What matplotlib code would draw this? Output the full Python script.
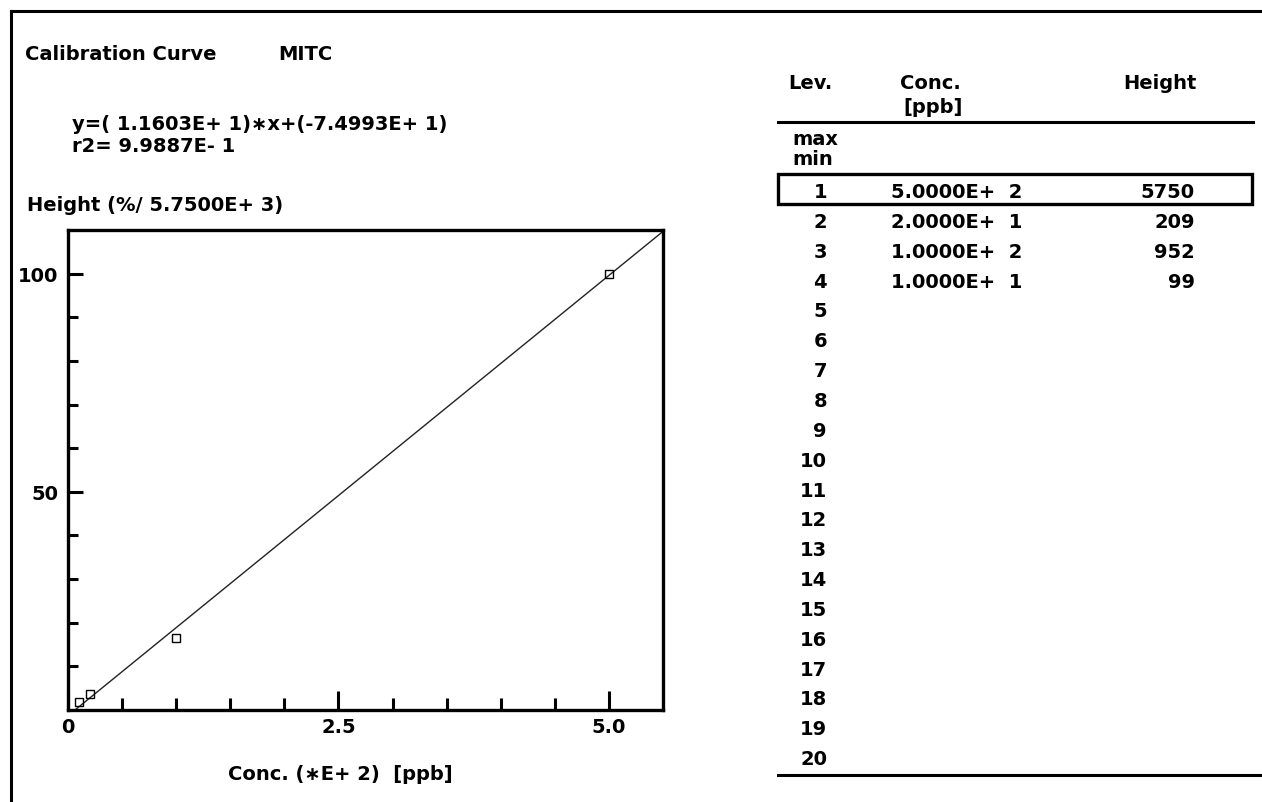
import numpy as np
from matplotlib import pyplot as plt
from matplotlib.patches import Rectangle

# calibration data (level table)
levels = list(range(1, 21))
conc_ppb = [5.0e2, 2.0e1, 1.0e2, 1.0e1]
heights = [5750, 209, 952, 99]
conc_text = ['5.0000E+  2', '2.0000E+  1', '1.0000E+  2', '1.0000E+  1']
slope = 11.603
intercept = -74.993
h_ref = 5750.0

W, H = 1262, 803
FS = 14
CAP = 0.729*FS*100/72.0
plt.rcParams['font.family'] = ['DejaVu Sans']
plt.rcParams['font.weight'] = 'bold'
fig = plt.figure(figsize=(W/100.0, H/100.0), dpi=100)

def px(x, y):
	return x/float(W), 1 - y/float(H)

# y is the middle of the capitals
def txt(x, y, s, ha='left'):
	fx, fy = px(x, y + CAP/2.0)
	fig.text(fx, fy, s, ha=ha, va='baseline', fontsize=FS, fontweight='bold')

def hline(x0, x1, y, lw=2.2):
	a, b = px(x0, y)
	c, d = px(x1, y)
	fig.add_artist(plt.Line2D([a, c], [b, d], color='black', lw=lw, transform=fig.transFigure))

# outer frame (only top and left visible)
a, b = px(11, 12)
fig.add_artist(plt.Line2D([a, 1.0], [b, b], color='black', lw=2.2, transform=fig.transFigure))
fig.add_artist(plt.Line2D([a, a], [b, 0.0], color='black', lw=2.2, transform=fig.transFigure))

# header texts
txt(25, 53, 'Calibration Curve')
txt(278, 53, 'MITC')
txt(72, 123, 'y=( 1.1603E+ 1)\u2217x+(-7.4993E+ 1)')
txt(72, 145, 'r2= 9.9887E- 1')
txt(27, 204, 'Height (%/ 5.7500E+ 3)')

# plot
l, r, t, bt = 68, 663, 231, 711
ax = fig.add_axes([l/float(W), 1 - bt/float(H), (r - l)/float(W), (bt - t)/float(H)])
xs = np.array(conc_ppb)/100.0
ys = np.array(heights)/h_ref*100.0
xl = np.array([0.0, 5.5])
yl = (slope*xl*100.0 + intercept)/h_ref*100.0
ax.plot(xl, yl, color='#222222', lw=1.0)
ax.plot(xs, ys, ls='none', marker='s', mfc='none', mec='black', ms=6, mew=1.0)
ax.set_xlim(0, 5.5)
ax.set_ylim(0, 110)
for s in ax.spines.values():
	s.set_linewidth(2.4)
ax.set_xticks([0, 2.5, 5.0])
ax.set_xticklabels(['0', '2.5', '5.0'])
ax.set_xticks(np.arange(0.5, 5.5, 0.5), minor=True)
ax.set_yticks([50, 100])
ax.set_yticklabels(['50', '100'])
ax.set_yticks([10, 20, 30, 40, 60, 70, 80, 90], minor=True)
ax.tick_params(which='major', direction='in', length=14, width=2.2, labelsize=FS, pad=5)
ax.tick_params(which='minor', direction='in', length=9, width=2.2)
ax.tick_params(axis='y', which='major', length=11, pad=7)
ax.tick_params(axis='y', which='minor', length=7)
for lab in ax.get_xticklabels() + ax.get_yticklabels():
	lab.set_fontweight('bold')
txt(340, 773, 'Conc. (\u2217E+ 2)  [ppb]', ha='center')

# table
txt(788, 82, 'Lev.')
txt(900, 82, 'Conc.')
txt(903, 106, '[ppb]')
txt(1123, 82, 'Height')
hline(778, 1253, 123)
txt(792, 138, 'max')
txt(792, 158, 'min')
row_y0 = 191
row_dy = (758 - 191)/19.0
for i, lev in enumerate(levels):
	y = row_y0 + i*row_dy
	txt(827, y, str(lev), ha='right')
	if i < len(conc_text):
		txt(891, y, conc_text[i])
		txt(1195, y, str(heights[i]), ha='right')
a, b = px(778, 205)
fig.add_artist(Rectangle((a, b), (1252 - 778)/float(W), 30/float(H), fill=False, ec='black', lw=2.4, transform=fig.transFigure))
hline(778, 1262, 776)

fig.savefig('out.png', dpi=100)
